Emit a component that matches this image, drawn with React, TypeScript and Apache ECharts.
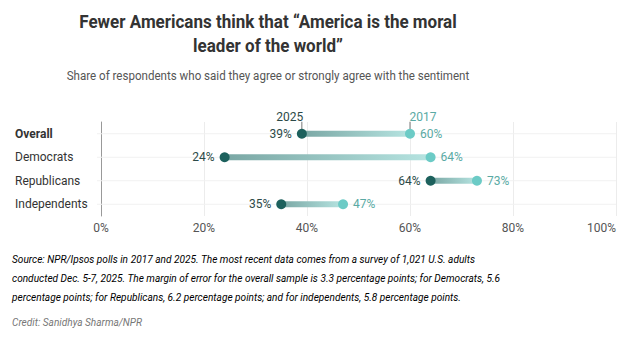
import React, { useEffect, useRef } from "react";
import * as echarts from "echarts";

const categories = ["Overall", "Democrats", "Republicans", "Independents"];
const values2025 = [39, 24, 64, 35];
const values2017 = [60, 64, 73, 47];
const xTicks = [0, 20, 40, 60, 80, 100];
const years = ["2025", "2017"];

const titleLines = ["Fewer Americans think that \u201cAmerica is the moral", "leader of the world\u201d"];
const subtitle = "Share of respondents who said they agree or strongly agree with the sentiment";
const noteLines = [
  "{t|Source: NPR/Ipsos polls in }{l|2017}{t| and 2025. The most recent data comes from a survey of 1,021 U.S. adults}",
  "{t|conducted Dec. 5-7, 2025. The margin of error for the overall sample is 3.3 percentage points; for Democrats, 5.6}",
  "{t|percentage points; for Republicans, 6.2 percentage points; and for independents, 5.8 percentage points.}",
];
const credit = "Credit: Sanidhya Sharma/NPR";

const DARK = "#1d615d";
const LIGHT = "#6ccbc6";
const FONT = "Roboto";

export default function App() {
  const ref = useRef<HTMLDivElement>(null);
  useEffect(() => {
    const chart = echarts.init(ref.current!, null, { renderer: "svg" });
    const barData = categories.map((c, i) => [values2025[i], values2017[i], i]);
    const noteRich = {
      t: { fontFamily: FONT, fontStyle: "italic", fontSize: 11, color: "#777" },
      l: { fontFamily: FONT, fontStyle: "italic", fontSize: 11, color: "#2f5fa8" },
    };
    chart.setOption({
      animation: false,
      textStyle: { fontFamily: FONT },
      grid: { left: 101, right: 14, top: 122, bottom: 129, containLabel: false },
      xAxis: {
        type: "value",
        min: 0,
        max: 100,
        interval: 20,
        axisLine: { show: false },
        axisTick: { show: false },
        splitLine: { show: true, lineStyle: { color: "#ececec", width: 1 } },
        axisLabel: {
          formatter: (v: number) => (xTicks.includes(v) ? v + "%" : ""),
          color: "#555",
          fontSize: 12,
          fontFamily: FONT,
          margin: 6,
          alignMaxLabel: "right",
        },
      },
      yAxis: {
        type: "category",
        data: categories,
        inverse: true,
        axisLine: { show: true, lineStyle: { color: "#999", width: 1 } },
        axisTick: { show: false },
        splitLine: { show: false },
        axisLabel: {
          align: "left",
          margin: 86,
          fontFamily: FONT,
          fontSize: 12,
          color: "#333",
          formatter: (v: string) => (v === "Overall" ? "{b|" + v + "}" : "{n|" + v + "}"),
          rich: {
            b: { fontWeight: "bold", fontSize: 12, color: "#333", fontFamily: FONT },
            n: { fontSize: 12, color: "#333", fontFamily: FONT },
          },
        },
      },
      series: [
        {
          type: "custom",
          encode: { x: [0, 1], y: 2 },
          data: barData,
          z: 2,
          renderItem: (params: any, api: any) => {
            const a = api.coord([api.value(0), api.value(2)]);
            const b = api.coord([api.value(1), api.value(2)]);
            const x0 = api.coord([0, api.value(2)]);
            const x100 = api.coord([100, api.value(2)]);
            const h = 6;
            const children: any[] = [
              {
                type: "line",
                shape: { x1: x0[0] - 4, y1: a[1], x2: x100[0], y2: a[1] },
                style: { stroke: "#f1f1f1", lineWidth: 1 },
                z2: 0,
              },
              {
                type: "rect",
                shape: { x: a[0], y: a[1] - h / 2, width: b[0] - a[0], height: h },
                style: {
                  fill: new echarts.graphic.LinearGradient(0, 0, 1, 0, [
                    { offset: 0, color: "#7aa7a4" },
                    { offset: 1, color: "#b6e4e1" },
                  ]),
                },
                z2: 1,
              },
            ];
            if (params.dataIndex === 0) {
              children.push(
                { type: "line", shape: { x1: a[0], y1: a[1] - 12, x2: a[0], y2: a[1] - 4 }, style: { stroke: "#777", lineWidth: 1 } },
                { type: "line", shape: { x1: b[0], y1: b[1] - 12, x2: b[0], y2: b[1] - 4 }, style: { stroke: "#777", lineWidth: 1 } },
                {
                  type: "text",
                  style: { text: years[0], x: a[0] - 12, y: a[1] - 11, align: "center", verticalAlign: "bottom", fill: "#2c4a48", fontSize: 12, fontFamily: FONT },
                },
                {
                  type: "text",
                  style: { text: years[1], x: b[0] + 13, y: b[1] - 11, align: "center", verticalAlign: "bottom", fill: "#5aaaa4", fontSize: 12, fontFamily: FONT },
                }
              );
            }
            return { type: "group", children };
          },
        },
        {
          type: "scatter",
          name: "2025",
          data: values2025.map((v, i) => [v, categories[i]]),
          symbolSize: 10,
          z: 3,
          itemStyle: { color: DARK, opacity: 1 },
          label: {
            show: true,
            position: "left",
            distance: 5,
            formatter: (p: any) => p.value[0] + "%",
            color: "#2c4a48",
            fontSize: 12,
            fontFamily: FONT,
          },
        },
        {
          type: "scatter",
          name: "2017",
          data: values2017.map((v, i) => [v, categories[i]]),
          symbolSize: 10,
          z: 3,
          itemStyle: { color: LIGHT, opacity: 1 },
          label: {
            show: true,
            position: "right",
            distance: 5,
            formatter: (p: any) => p.value[0] + "%",
            color: "#5aaaa4",
            fontSize: 12,
            fontFamily: FONT,
          },
        },
      ],
      graphic: [
        ...titleLines.map((t, i) => ({
          type: "text",
          x: 268,
          y: 22 + i * 24,
          scaleX: 0.945,
          style: {
            text: t,
            x: 0,
            y: 0,
            align: "center",
            verticalAlign: "middle",
            fontFamily: FONT,
            fontSize: 18,
            fontWeight: "bold",
            fill: "#333",
          },
        })),
        {
          type: "text",
          x: 268,
          y: 76,
          scaleX: 0.89,
          style: {
            text: subtitle,
            x: 0,
            y: 0,
            align: "center",
            verticalAlign: "middle",
            fontFamily: FONT,
            fontSize: 13,
            fill: "#555",
          },
        },
        ...noteLines.map((t, i) => ({
          type: "text",
          x: 12,
          y: 259 + i * 19.4,
          scaleX: 0.92,
          style: {
            text: t,
            x: 0,
            y: 0,
            align: "left",
            verticalAlign: "middle",
            rich: noteRich,
          },
        })),
        {
          type: "text",
          x: 12,
          y: 322,
          scaleX: 0.92,
          style: {
            text: credit,
            x: 0,
            y: 0,
            align: "left",
            verticalAlign: "middle",
            fontFamily: FONT,
            fontStyle: "italic",
            fontSize: 11,
            fill: "#777",
          },
        },
      ],
    });
    return () => chart.dispose();
  }, []);
  return <div ref={ref} style={{ width: 630, height: 345, position: "absolute", left: 0, top: 0 }} />;
}
